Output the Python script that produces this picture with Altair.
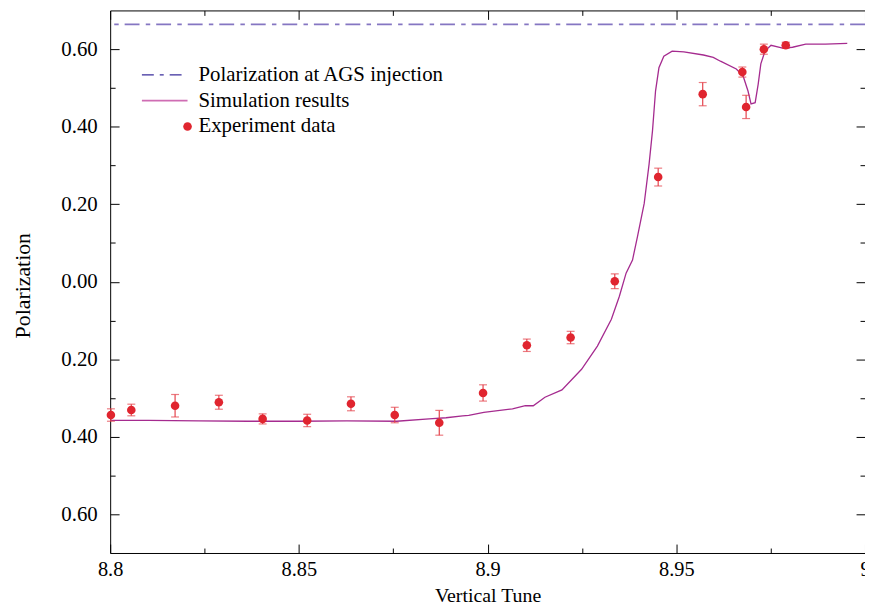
import altair as alt
import pandas as pd

# ---- data ----
sim_x = [8.8000, 8.8102, 8.8234, 8.8365, 8.8496, 8.8627, 8.8759, 8.8845, 8.8890, 8.8934,
         8.8950, 8.8990, 8.9066, 8.9100, 8.9121, 8.9152, 8.9197, 8.9249, 8.9291, 8.9328,
         8.9349, 8.9367, 8.9384, 8.9397, 8.9415, 8.9428, 8.9437, 8.9445, 8.9454, 8.9467,
         8.9489, 8.9520, 8.9572, 8.9598, 8.9617, 8.9659, 8.9677, 8.9690, 8.9698, 8.9709,
         8.9717, 8.9724, 8.9735, 8.9751, 8.9782, 8.9808, 8.9843, 8.9895, 8.9953]
sim_y = [-0.358, -0.358, -0.359, -0.360, -0.360, -0.359, -0.360, -0.354, -0.351, -0.346,
         -0.345, -0.337, -0.328, -0.320, -0.320, -0.298, -0.279, -0.226, -0.166, -0.097,
         -0.038, 0.022, 0.056, 0.116, 0.202, 0.304, 0.390, 0.492, 0.552, 0.582,
         0.595, 0.593, 0.585, 0.579, 0.569, 0.549, 0.531, 0.492, 0.459, 0.462,
         0.510, 0.562, 0.595, 0.610, 0.603, 0.605, 0.613, 0.613, 0.615]

exp_x = [8.8002, 8.8056, 8.8172, 8.8288, 8.8404, 8.8522, 8.8638, 8.8754, 8.8872, 8.8988,
         8.9104, 8.9220, 8.9337, 8.9452, 8.9570, 8.9675, 8.9685, 8.9732, 8.9790]
exp_y = [-0.344, -0.331, -0.320, -0.311, -0.354, -0.358, -0.315, -0.344, -0.364, -0.287,
         -0.164, -0.144, 0.001, 0.270, 0.484, 0.541, 0.451, 0.600, 0.610]
exp_err = [0.016, 0.015, 0.029, 0.018, 0.013, 0.016, 0.018, 0.020, 0.032, 0.021,
           0.016, 0.016, 0.019, 0.023, 0.030, 0.013, 0.030, 0.013, 0.008]

injection_level = [0.664]

x_major = [8.8, 8.85, 8.9, 8.95, 9.0]
x_minor = [8.825, 8.875, 8.925, 8.975]
y_major = [-0.6, -0.4, -0.2, 0.0, 0.2, 0.4, 0.6]
y_minor = [-0.5, -0.3, -0.1, 0.1, 0.3, 0.5]

legend_labels = ["Polarization at AGS injection", "Simulation results", "Experiment data"]

# ---- tables ----
sim_df = pd.DataFrame({"tune": sim_x, "pol": sim_y})
exp_df = pd.DataFrame({
    "tune": exp_x,
    "pol": exp_y,
    "lo": [y - e for y, e in zip(exp_y, exp_err)],
    "hi": [y + e for y, e in zip(exp_y, exp_err)],
})
inj_df = pd.DataFrame({"pol": injection_level})

FONT = "Liberation Serif"
INJ_COLOR = "#8576c2"
INJ_LEGEND = "#3a2e9c"
SIM_COLOR = "#a52b8f"
SIM_LEGEND = "#cf6db3"
PT_COLOR = "#e0252f"
ERR_COLOR = "#e4434c"

xscale = alt.Scale(domain=[8.8, 9.0], nice=False, zero=False)
yscale = alt.Scale(domain=[-0.7, 0.7], nice=False, zero=False)

MAJ = alt.ExprRef(expr="-9")
MIN = alt.ExprRef(expr="-5")


def plain_axis(orient, values, size, domain):
    return alt.Axis(orient=orient, values=values, tickSize=size, domain=domain,
                    domainColor="black", labels=False, title=None, grid=False,
                    tickColor="black")


x_bottom = alt.Axis(
    orient="bottom", values=x_major, tickSize=MAJ, domain=True, domainColor="black",
    labelExpr="datum.value + ''", labelFlush=False, labelOverlap=False,
    labelPadding=16, labelFontSize=20.5, labelFont=FONT, labelColor="black",
    title="Vertical Tune", titleFont=FONT, titleFontSize=20, titleFontWeight="normal",
    titleColor="black", titleBaseline="alphabetic", titleY=49,
    grid=False, tickColor="black",
)
y_left = alt.Axis(
    orient="left", values=y_major, tickSize=MAJ, domain=True, domainColor="black",
    labelExpr="format(abs(datum.value), '.2f')", labelOverlap=False,
    labelPadding=22, labelFontSize=21, labelFont=FONT, labelColor="black",
    title="Polarization", titleFont=FONT, titleFontSize=22, titleFontWeight="normal",
    titleColor="black", titleAngle=-90, titleBaseline="middle", titleAlign="center",
    titleX=-88, titleY=277,
    grid=False, tickColor="black",
)

inj = alt.Chart(inj_df).mark_rule(
    color=INJ_COLOR, strokeWidth=1.8, strokeDash=[15, 6, 4.5, 6.3]
).encode(y=alt.Y("pol:Q", scale=yscale, axis=None))

sim = alt.Chart(sim_df).mark_line(color=SIM_COLOR, strokeWidth=1.3).encode(
    x=alt.X("tune:Q", scale=xscale, axis=x_bottom),
    y=alt.Y("pol:Q", scale=yscale, axis=y_left),
)

err = alt.Chart(exp_df).mark_rule(color=ERR_COLOR, strokeWidth=1.2).encode(
    x=alt.X("tune:Q", scale=xscale, axis=plain_axis("bottom", x_minor, MIN, False)),
    y=alt.Y("lo:Q", scale=yscale, axis=plain_axis("left", y_minor, MIN, False)),
    y2="hi:Q",
)
cap_lo = alt.Chart(exp_df).mark_tick(
    color=ERR_COLOR, orient="horizontal", size=8, thickness=1.2
).encode(
    x=alt.X("tune:Q", scale=xscale, axis=plain_axis("top", x_minor, MIN, False)),
    y=alt.Y("lo:Q", scale=yscale, axis=plain_axis("right", y_minor, MIN, False)),
)
cap_hi = alt.Chart(exp_df).mark_tick(
    color=ERR_COLOR, orient="horizontal", size=8, thickness=1.2
).encode(
    x=alt.X("tune:Q", scale=xscale, axis=None),
    y=alt.Y("hi:Q", scale=yscale, axis=None),
)
pts = alt.Chart(exp_df).mark_circle(color=PT_COLOR, size=75, opacity=1).encode(
    x=alt.X("tune:Q", scale=xscale, axis=plain_axis("top", x_major, MAJ, True)),
    y=alt.Y("pol:Q", scale=yscale, axis=plain_axis("right", y_major, MAJ, False)),
)

# ---- legend (drawn by hand, top-left inside the plot) ----
leg_df = pd.DataFrame({"label": legend_labels})
leg_inj = alt.Chart(leg_df.iloc[[0]]).mark_rule(
    color=INJ_LEGEND, strokeWidth=1.3, strokeDash=[12, 6, 4, 6]
).encode(x=alt.value(32), x2=alt.value(78), y=alt.value(65))
leg_sim = alt.Chart(leg_df.iloc[[1]]).mark_rule(
    color=SIM_LEGEND, strokeWidth=1.8
).encode(x=alt.value(32), x2=alt.value(78), y=alt.value(91))
leg_pt = alt.Chart(leg_df.iloc[[2]]).mark_circle(
    color=PT_COLOR, size=75, opacity=1
).encode(x=alt.value(78), y=alt.value(117))
leg_text = [
    alt.Chart(leg_df.iloc[[i]]).mark_text(
        font=FONT, fontSize=21, align="left", baseline="middle", color="black"
    ).encode(text="label:N", x=alt.value(89), y=alt.value(65 + 26 * i))
    for i in range(3)
]

chart = alt.layer(
    inj, sim, err, cap_lo, cap_hi, pts, leg_inj, leg_sim, leg_pt, *leg_text
).resolve_axis(x="independent", y="independent").properties(
    width=761, height=547,
    autosize=alt.AutoSizeParams(type="none"),
    padding={"left": 103, "top": 0, "right": 0, "bottom": 53},
    background="white",
).configure_view(stroke=None)

chart.save("out.html", embed_options={"renderer": "svg", "actions": False})
